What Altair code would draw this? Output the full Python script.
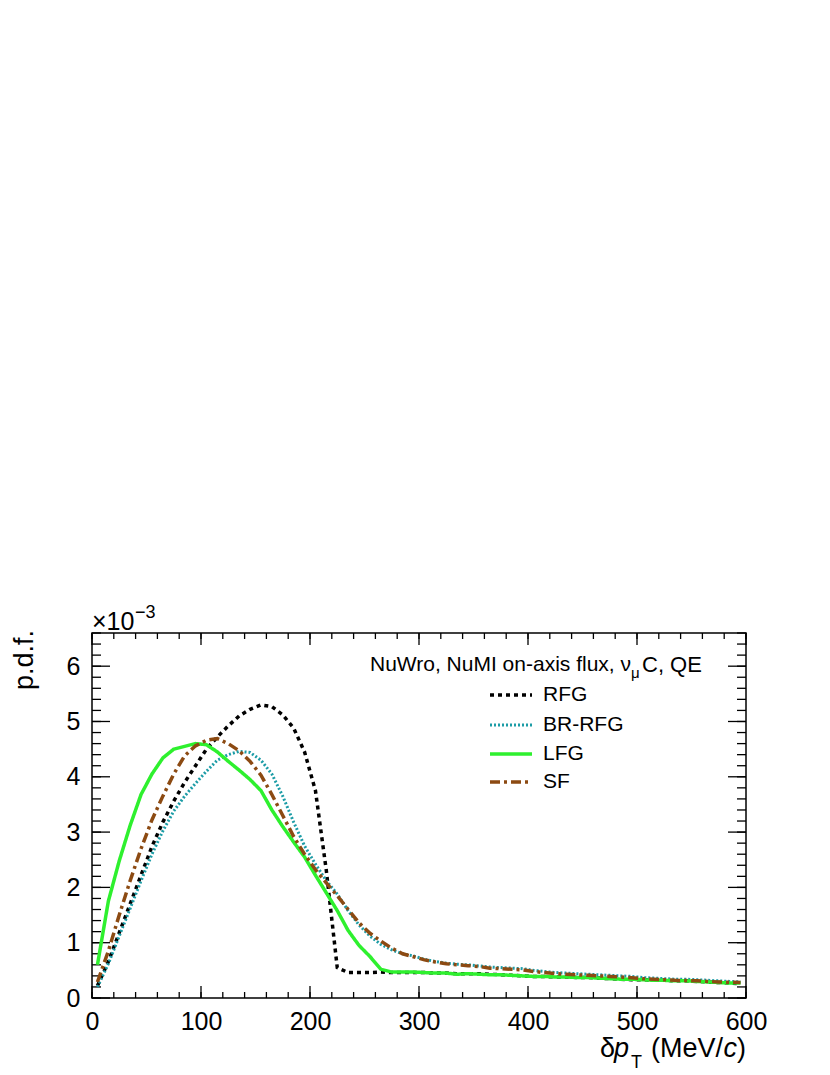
import altair as alt
import pandas as pd

# ---------------- data (p.d.f. in units of 1e-3) ----------------
x_centers = list(range(5, 600, 10))

rfg = [0.22, 0.66, 1.18, 1.70, 2.22, 2.74, 3.18, 3.56, 3.90, 4.20,
       4.50, 4.72, 4.92, 5.10, 5.22, 5.30, 5.27, 5.12, 4.88, 4.45,
       3.75, 2.30, 0.55, 0.46, 0.46, 0.46, 0.47, 0.46, 0.46, 0.46,
       0.46, 0.45, 0.45, 0.44, 0.44, 0.44, 0.43, 0.42, 0.41, 0.40,
       0.39, 0.39, 0.38, 0.38, 0.37, 0.37, 0.36, 0.35, 0.34, 0.33,
       0.33, 0.32, 0.32, 0.31, 0.31, 0.30, 0.29, 0.28, 0.27, 0.26]

br_rfg = [0.20, 0.62, 1.12, 1.62, 2.12, 2.60, 3.02, 3.38, 3.65, 3.88,
          4.10, 4.30, 4.40, 4.46, 4.44, 4.30, 4.05, 3.65, 3.18, 2.75,
          2.42, 2.12, 1.88, 1.58, 1.32, 1.12, 0.97, 0.87, 0.80, 0.76,
          0.70, 0.66, 0.63, 0.61, 0.60, 0.58, 0.56, 0.55, 0.54, 0.53,
          0.50, 0.48, 0.46, 0.45, 0.44, 0.43, 0.42, 0.41, 0.40, 0.39,
          0.37, 0.36, 0.35, 0.34, 0.34, 0.33, 0.32, 0.31, 0.30, 0.29]

lfg = [0.60, 1.75, 2.48, 3.12, 3.68, 4.05, 4.34, 4.50, 4.55, 4.60,
       4.58, 4.45, 4.28, 4.12, 3.95, 3.75, 3.40, 3.10, 2.82, 2.55,
       2.22, 1.90, 1.58, 1.22, 0.95, 0.75, 0.52, 0.47, 0.47, 0.47,
       0.46, 0.45, 0.45, 0.43, 0.44, 0.43, 0.42, 0.42, 0.41, 0.40,
       0.39, 0.39, 0.38, 0.38, 0.37, 0.37, 0.36, 0.35, 0.34, 0.34,
       0.33, 0.32, 0.32, 0.31, 0.31, 0.30, 0.29, 0.28, 0.27, 0.27]

sf = [0.29, 0.85, 1.50, 2.12, 2.70, 3.22, 3.65, 4.05, 4.38, 4.56,
      4.66, 4.69, 4.60, 4.47, 4.28, 4.03, 3.68, 3.30, 2.92, 2.60,
      2.32, 2.08, 1.85, 1.60, 1.36, 1.17, 1.03, 0.90, 0.80, 0.745,
      0.69, 0.65, 0.62, 0.60, 0.585, 0.57, 0.54, 0.53, 0.52, 0.51,
      0.48, 0.46, 0.44, 0.43, 0.42, 0.41, 0.40, 0.39, 0.38, 0.365,
      0.35, 0.34, 0.33, 0.32, 0.315, 0.31, 0.30, 0.29, 0.285, 0.28]

series_names = ["RFG", "BR-RFG", "LFG", "SF"]
series_values = [rfg, br_rfg, lfg, sf]

x_tick_labels = [0, 100, 200, 300, 400, 500, 600]
y_tick_labels = [0, 1, 2, 3, 4, 5, 6]
x_minor = [v for v in range(0, 601, 20)]
y_minor = [round(v * 0.2, 1) for v in range(0, 34)]

# ---------------- styles ----------------
colors = ["#000000", "#1c9ca6", "#2ef02e", "#8c4a12"]
dashes = [[4, 4], [2, 2], [1, 0], [10, 4, 3, 4]]
widths = [3.5, 3.0, 3.5, 3.5]
FONT = "Liberation Sans"
W, H = 654, 365

xs = alt.Scale(domain=[0, 600], nice=False, zero=False)
ys = alt.Scale(domain=[0, 6.6], nice=False, zero=False)

XAX = alt.Axis(values=x_tick_labels, ticks=False, domain=False, grid=False,
               labelFontSize=25, labelFont=FONT, labelColor="black",
               labelPadding=11, labelFlush=False, title=None, format="d")
YAX = alt.Axis(values=y_tick_labels, ticks=False, domain=False, grid=False,
               labelFontSize=25, labelFont=FONT, labelColor="black",
               labelPadding=12, labelFlush=False, title=None, format="d")

layers = []

# inside ticks
xmaj = pd.DataFrame({"v": x_tick_labels})
xmin = pd.DataFrame({"v": x_minor})
ymaj = pd.DataFrame({"v": y_tick_labels})
ymin = pd.DataFrame({"v": y_minor})
tick_style = dict(color="black", strokeWidth=1.3)
for df, ln in [(xmaj, 12), (xmin, 6)]:
    layers.append(alt.Chart(df).mark_rule(**tick_style).encode(
        x=alt.X("v:Q", scale=xs, axis=XAX), y=alt.value(H - ln), y2=alt.value(H)))
    layers.append(alt.Chart(df).mark_rule(**tick_style).encode(
        x=alt.X("v:Q", scale=xs, axis=XAX), y=alt.value(0), y2=alt.value(ln)))
for df, ln in [(ymaj, 18), (ymin, 9)]:
    layers.append(alt.Chart(df).mark_rule(**tick_style).encode(
        y=alt.Y("v:Q", scale=ys, axis=YAX), x=alt.value(0), x2=alt.value(ln)))
    layers.append(alt.Chart(df).mark_rule(**tick_style).encode(
        y=alt.Y("v:Q", scale=ys, axis=YAX), x=alt.value(W - ln), x2=alt.value(W)))

# curves
for name, vals, c, d, w in zip(series_names, series_values, colors, dashes, widths):
    df = pd.DataFrame({"x": x_centers, "y": vals, "s": name})
    layers.append(alt.Chart(df).mark_line(color=c, strokeDash=d, strokeWidth=w,
                                          strokeCap="butt", strokeJoin="miter").encode(
        x=alt.X("x:Q", scale=xs, axis=XAX),
        y=alt.Y("y:Q", scale=ys, axis=YAX)))

# legend
one = pd.DataFrame({"a": [0]})
leg_y = [62, 92, 121, 149]
for name, c, d, w, ly in zip(series_names, colors, dashes, widths, leg_y):
    layers.append(alt.Chart(one).mark_rule(color=c, strokeDash=d, strokeWidth=w, strokeCap="butt").encode(
        x=alt.value(398), x2=alt.value(440), y=alt.value(ly)))
    layers.append(alt.Chart(one).mark_text(text=name, font=FONT, fontSize=21, align="left",
                                           baseline="middle", color="black").encode(
        x=alt.value(451), y=alt.value(ly)))


def txt(t, x, y, size, align="left", baseline="alphabetic", style="normal", angle=0):
    kw = dict(text=t, font=FONT, fontSize=size, align=align, baseline=baseline,
              fontStyle=style, color="black")
    if angle:
        kw["angle"] = angle
    return alt.Chart(one).mark_text(**kw).encode(x=alt.value(x), y=alt.value(y))


# legend header: NuWro, NuMI on-axis flux, nu_mu C, QE
layers.append(txt("NuWro, NuMI on-axis flux, \u03bd", 539, 32, 21, align="right", baseline="middle"))
layers.append(txt("\u03bc", 539, 40, 15, baseline="middle"))
layers.append(txt("C, QE", 550, 32, 22, baseline="middle"))

# x10^-3
layers.append(txt("\u00d710", 0, -3, 25))
layers.append(txt("\u22123", 43, -15, 18))

# y title
layers.append(txt("p.d.f.", -59, -3, 27, align="right", angle=270))

# x title: delta p_T (MeV/c)
layers.append(txt("\u03b4", 508, 424, 27))
layers.append(txt("p", 522, 424, 27, style="italic"))
layers.append(txt("T", 539, 435, 18))
layers.append(txt(")", 654, 424, 27, align="right"))
layers.append(txt("c", 645, 424, 27, align="right", style="italic"))
layers.append(txt("(MeV/", 631, 424, 27, align="right"))

chart = alt.layer(*layers).properties(
    width=W, height=H,
    padding={"left": 84, "top": 625, "right": 76, "bottom": 76},
    autosize=alt.AutoSizeParams(type="none"),
    background="white",
).configure_view(stroke="black", strokeWidth=1.5)

chart.save("out.html", embed_options={"renderer": "svg", "actions": False})
